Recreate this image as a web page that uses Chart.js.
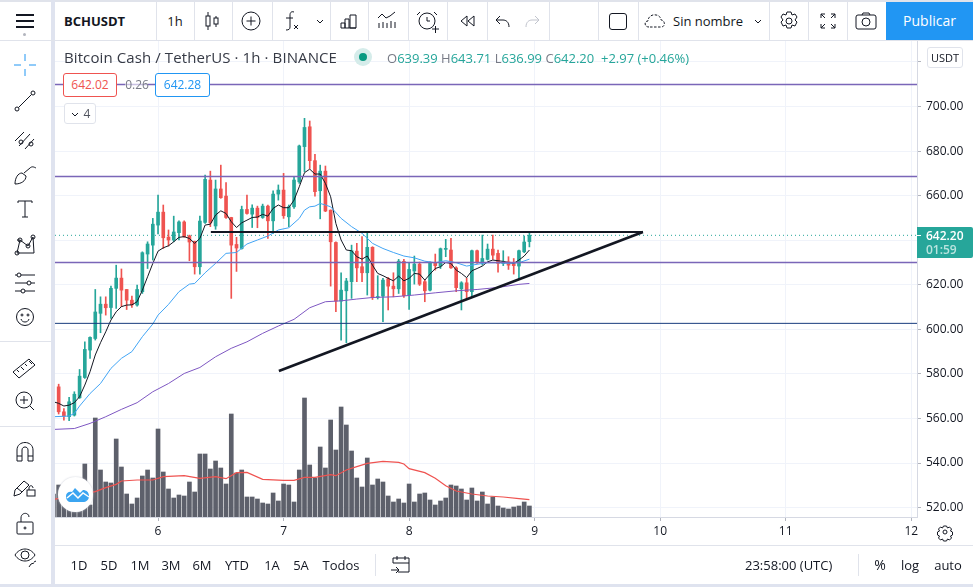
<!DOCTYPE html>
<html>
<head>
<meta charset="utf-8">
<title>BCHUSDT</title>
<script src="https://cdn.jsdelivr.net/npm/chart.js@4/dist/chart.umd.min.js"></script>
<style>
html, body { margin: 0; padding: 0; background: #fff; overflow: hidden; }
body { width: 973px; height: 587px; position: relative; font-family: "Open Sans", "Noto Sans", sans-serif; color: #131722; }
#chart { position: absolute; left: 55px; top: 41px; }
.ui { position: absolute; white-space: nowrap; line-height: 1; }
.box { position: absolute; box-sizing: border-box; }
svg { position: absolute; fill: none; stroke: #131722; stroke-width: 1; }
.up { color: #26a69a; }
.lbl { color: #787b86; }
</style>
</head>
<body>
<canvas id="chart" width="918" height="504"></canvas>
<div id="chrome"></div>
<script>
// hours counted from the start of day 6, one candle per hour
const candleHours = [-19,-18,-17,-16,-15,-14,-13,-12,-11,-10,-9,-8,-7,-6,-5,-4,-3,-2,-1,0,1,2,3,4,5,6,7,8,9,10,11,12,13,14,15,16,17,18,19,20,21,22,23,24,25,26,27,28,29,30,31,32,33,34,35,36,37,38,39,40,41,42,43,44,45,46,47,48,49,50,51,52,53,54,55,56,57,58,59,60,61,62,63,64,65,66,67,68,69,70,71];
const opens = [574.2,563.0,560.8,561.5,569.3,578.4,590.7,595.9,607.2,611.3,609.8,618.4,623.0,617.9,613.1,610.9,616.9,633.8,637.8,646.8,
  652.6,641.4,640.1,643.4,648.2,642.0,639.5,628.1,648.0,667.0,646.4,663.0,659.8,650.2,638.1,636.3,653.8,651.7,654.4,650.2,
  655.3,648.7,660.7,662.5,650.5,655.0,666.2,682.0,690.9,675.7,662.2,671.0,653.5,639.0,612.7,617.3,621.4,635.1,628.1,625.4,
  636.8,614.3,614.9,622.7,619.4,618.2,630.5,615.4,626.2,629.3,621.4,617.6,629.9,628.4,635.9,635.6,627.6,618.2,620.9,616.9,
  635.3,629.9,631.4,636.0,634.1,629.6,630.3,629.6,628.4,634.8,639.39];
const highs = [575.4,564.5,569.5,572.0,582.0,594.4,596.7,617.9,614.6,614.6,619.4,628.8,627.1,617.9,614.9,619.9,634.8,639.3,649.8,660.3,
  655.8,644.6,650.8,648.7,648.7,642.3,639.6,650.8,669.2,671.0,667.0,673.7,665.9,650.3,641.3,655.3,660.3,655.9,655.3,656.2,
  655.8,662.2,664.8,670.0,655.8,668.2,682.7,694.7,693.5,678.5,673.7,673.3,653.6,639.3,625.4,622.9,637.8,638.6,641.6,643.1,
  637.1,624.1,622.9,623.3,625.4,631.4,631.4,629.6,632.9,630.2,622.4,630.3,633.8,636.5,640.4,640.8,628.1,621.4,622.9,635.6,
  635.6,642.3,638.3,642.3,635.6,635.3,632.6,631.8,635.6,641.9,643.71];
const lows = [562.0,559.3,559.0,561.1,569.0,578.0,587.0,595.2,598.5,606.4,604.9,609.4,610.2,608.9,609.8,610.4,616.1,627.3,631.1,642.8,
  636.3,637.4,639.3,640.1,641.3,630.8,624.8,624.8,647.5,646.1,644.9,658.8,649.8,613.9,626.0,636.0,651.7,645.7,645.6,649.8,
  640.8,643.1,658.0,649.8,646.1,654.3,665.5,670.7,672.2,659.8,649.6,652.8,619.4,607.9,595.2,594.0,613.9,621.4,621.4,615.4,
  613.4,613.6,603.4,608.7,614.6,616.1,614.3,608.9,620.3,619.7,612.4,617.2,626.6,627.3,632.6,627.3,616.9,608.7,613.4,614.3,
  629.6,628.8,631.1,631.4,625.7,628.6,626.9,624.8,622.4,634.4,636.99];
const closes = [563.0,561.1,567.5,570.9,579.0,591.0,596.4,607.8,611.3,609.7,618.4,623.0,617.6,613.1,611.0,617.9,634.4,638.3,647.2,652.6,
  641.1,640.1,643.7,648.2,641.6,639.2,628.1,648.6,667.3,647.8,663.0,659.1,650.2,637.8,636.5,653.8,652.0,654.4,650.2,655.3,
  648.7,660.7,662.5,651.0,655.0,667.0,682.3,690.6,675.7,661.8,671.0,653.1,639.3,612.7,617.6,621.7,635.3,627.6,625.4,636.8,
  614.3,614.6,622.1,619.4,618.2,630.6,615.1,626.9,629.3,620.3,617.3,629.9,628.6,636.2,636.2,627.6,618.7,620.9,616.9,635.3,
  629.9,631.8,636.0,633.3,629.6,629.9,628.8,628.6,635.3,639.2,642.20];

// volume, relative units, index 0 is hour -20
const volumeHours = [-20,-19,-18,-17,-16,-15,-14,-13,-12,-11,-10,-9,-8,-7,-6,-5,-4,-3,-2,-1,0,1,2,3,4,5,6,7,8,9,10,11,12,13,14,15,16,17,18,19,20,21,22,23,24,25,26,27,28,29,30,31,32,33,34,35,36,37,38,39,40,41,42,43,44,45,46,47,48,49,50,51,52,53,54,55,56,57,58,59,60,61,62,63,64,65,66,67,68,69,70,71];
const volumes = [69,96,61,36,41,23,159,36,297,141,105,102,234,150,69,39,57,123,141,117,264,135,84,57,66,63,105,75,189,189,144,168,147,99,309,132,141,60,60,54,42,39,72,48,99,96,45,141,357,156,
  117,210,147,291,201,330,276,198,117,90,177,96,114,105,63,45,54,42,99,45,69,72,51,36,48,57,96,93,84,51,87,48,75,39,60,33,27,24,30,33,45,33];
const volumeMaHours = [-20,-12,-10,-8,-7,-4,-1,1,5,8,11,13,15,17,20,24,26,28,30,33,34,36,38,40,43,46,47,48,51,53,55,57,60,63,66,69,71];
const volumeMa = [53,76,88,98,108,111,111,121,124,116,121,115,133,134,113,110,110,119,119,127,124,141,151,161,167,164,159,145,133,116,94,78,69,63,60,55,52];

// moving averages on price
const blackHours = volumeHours;
const blackLine = [567.5,566.8,565.6,566.0,567.1,569.8,575.0,581.0,588.5,594.0,598.9,604.2,607.9,610.2,610.9,611.0,612.4,617.6,623.6,629.6,
  635.1,636.6,637.5,639.3,641.3,641.6,640.8,638.6,640.8,646.8,647.2,651.3,653.2,652.0,648.3,645.7,647.8,649.0,650.2,650.4,
  651.6,650.8,654.3,655.8,654.6,654.6,658.0,664.0,670.3,671.9,669.7,669.7,665.5,659.5,647.5,640.1,635.6,635.3,632.6,631.5,
  632.9,628.8,625.1,624.1,622.9,621.8,623.9,621.8,622.9,625.1,624.8,622.1,624.8,627.3,628.1,630.0,629.6,626.6,625.1,623.2,
  626.3,627.3,628.4,630.3,631.1,630.8,630.5,630.0,629.6,631.1,632.9,635.6];
const blueHours = [-20,-17,-16,-15,-13,-11,-9,-7,-5,-3,-1,0,2,4,6,7,9,11,13,15,17,19,21,23,25,27,28,29,30,31,32,33,35,37,39,41,43,45,47,49,51,53,55,57,59,61,63,65,67,69,71];
const blueLine = [560.8,561.1,562.3,565.6,571.2,575.7,582.5,587.0,590.0,596.7,602.4,606.4,611.2,616.9,620.3,620.6,625.4,629.6,634.1,634.5,638.3,640.1,641.9,644.6,645.6,649.8,653.5,655.0,655.3,656.5,655.8,655.0,649.8,646.1,643.1,638.6,636.3,634.5,632.9,632.1,630.6,629.9,630.8,629.9,628.4,629.2,629.9,629.9,629.6,629.9,631.5];
const purpleHours = [-20,-16,-13,-10,-7,-4,-1,2,5,8,11,14,17,20,23,26,29,32,35,38,41,45,49,53,57,61,65,69,71];
const purpleLine = [555.1,555.5,557.8,560.8,564.1,567.1,572.0,575.7,580.2,582.9,587.7,591.5,594.4,598.2,601.5,604.5,609.7,612.4,612.8,613.6,614.3,614.6,615.4,616.4,617.3,617.9,618.8,620.2,620.6];

// drawn levels and the trend line
const purpleLevels = [709.9, 668.6, 630.0];
const navyLevel = 602.7;
const resistance = { hours: [10.1, 92.7], prices: [643.7, 643.7] };
const trend = { hours: [23.1, 92.7], prices: [581.3, 643.7] };
const lastPrice = 642.20;

const priceTicks = [520,540,560,580,600,620,640,660,680,700,720];
const dayTicks = [0,24,48,72,96,120,144];
const dayLabels = ["6","7","8","9","10","11","12"];

const zip = (xs, ys) => xs.map((x, i) => ({ x, y: ys[i] }));
const UP = "#26a69a", DOWN = "#ef5350";
const candleColors = closes.map((c, i) => c >= opens[i] ? UP : DOWN);
const HMIN = -19.7, HMAX = 145.1;

function lineSet(points, color, width, extra) {
    return Object.assign({
        type: "line", data: points, borderColor: color, borderWidth: width,
        pointRadius: 0, tension: 0, yAxisID: "y", order: 3
    }, extra || {});
}

const datasets = [
    { type: "bar", data: zip(volumeHours, volumes), backgroundColor: "#5d606b", barThickness: 4, grouped: false, yAxisID: "vol", order: 9 },
    lineSet(zip(volumeMaHours, volumeMa), "#ef5350", 1.2, { yAxisID: "vol", order: 8 }),
    { type: "bar", data: candleHours.map((h, i) => ({ x: h, y: [lows[i], highs[i]] })), backgroundColor: candleColors, barThickness: 1, grouped: false, yAxisID: "y", order: 6 },
    { type: "bar", data: candleHours.map((h, i) => ({ x: h, y: [opens[i], closes[i]] })), backgroundColor: candleColors, barThickness: 3, grouped: false, minBarLength: 1, yAxisID: "y", order: 5 },
    lineSet(zip(purpleHours, purpleLine), "#7e57c2", 1),
    lineSet(zip(blueHours, blueLine), "#42a5f5", 1),
    lineSet(zip(blackHours, blackLine), "#131722", 1),
    lineSet([{ x: HMIN, y: lastPrice }, { x: HMAX, y: lastPrice }], UP, 1, { borderDash: [1, 3], order: 7 }),
    lineSet([{ x: HMIN, y: navyLevel }, { x: HMAX, y: navyLevel }], "#163a7d", 1, { order: 2 })
];
purpleLevels.forEach(p => datasets.push(lineSet([{ x: HMIN, y: p }, { x: HMAX, y: p }], "#7a66b8", 1.5, { order: 2 })));
datasets.push(lineSet(zip(resistance.hours, resistance.prices), "#131722", 2, { order: 1 }));
datasets.push(lineSet(zip(trend.hours, trend.prices), "#131722", 2.6, { order: 1 }));

const tickFont = { family: "'Open Sans', sans-serif", size: 12 };

new Chart(document.getElementById("chart").getContext("2d"), {
    data: { datasets },
    options: {
        responsive: false,
        animation: false,
        events: [],
        layout: { padding: 0 },
        plugins: { legend: { display: false }, tooltip: { enabled: false } },
        scales: {
            x: {
                type: "linear", min: HMIN, max: HMAX, offset: false,
                grid: { color: "#f0f3fa", offset: false, tickColor: "#b2b5be", tickLength: 4 },
                border: { color: "#d6d9e3" },
                ticks: { color: "#131722", font: tickFont, padding: 3, maxRotation: 0, autoSkip: false,
                    callback: v => dayLabels[dayTicks.indexOf(v)] },
                afterBuildTicks: s => { s.ticks = dayTicks.map(v => ({ value: v })); },
                afterFit: s => { s.height = 28; s.paddingLeft = 0; s.paddingRight = 0; }
            },
            y: {
                position: "right", min: 515.8, max: 729.4,
                grid: { color: "#f0f3fa", tickColor: "#b2b5be", tickLength: 4 },
                border: { color: "#d6d9e3" },
                ticks: { color: "#131722", font: tickFont, padding: 5,
                    callback: v => v === 720 ? "" : v.toFixed(2) },
                afterBuildTicks: s => { s.ticks = priceTicks.map(v => ({ value: v })); },
                afterFit: s => { s.width = 56; s.paddingTop = 0; s.paddingBottom = 0; }
            },
            vol: { display: false, min: 0, max: 1428 }
        }
    }
});

// ---- toolbars round the chart ----
const chrome = document.getElementById("chrome");
function add(html) { chrome.insertAdjacentHTML("beforeend", html); }
function text(t, x, y, size, opts) {
    opts = opts || {};
    const tx = opts.center ? "translate(-50%,-50%)" : "translateY(-50%)";
    add(`<div class="ui ${opts.cls || ""}" style="left:${x}px;top:${y}px;font-size:${size}px;transform:${tx};${opts.style || ""}">${t}</div>`);
}
function rect(x, y, w, h, style) { add(`<div class="box" style="left:${x}px;top:${y}px;width:${w}px;height:${h}px;${style}"></div>`); }
function icon(x, y, body, color) {
    add(`<svg style="left:${x - 14}px;top:${y - 14}px;${color ? "stroke:" + color : ""}" width="28" height="28" viewBox="-14 -14 28 28">${body}</svg>`);
}

// frame
const FRAME = "#e0e3eb";
rect(0, 0, 973, 2, "background:" + FRAME);
rect(51, 0, 4, 587, "background:#dfe3ef");
rect(0, 40, 973, 1, "background:" + FRAME);
rect(55, 545, 918, 1, "background:" + FRAME);
rect(0, 584, 973, 3, "background:#dfe3ef");
rect(0, 341, 51, 1, "background:" + FRAME);
rect(0, 426, 51, 1, "background:" + FRAME);
[156, 194, 232, 272, 330, 368, 408, 447, 487, 549, 598, 638, 769, 808, 847].forEach(x => rect(x, 2, 1, 38, "background:" + FRAME));
rect(375, 554, 1, 22, "background:" + FRAME);
rect(858, 554, 1, 22, "background:" + FRAME);

// top bar
text("BCHUSDT", 64, 21, 13, { style: "font-weight:700;" });
text("1h", 175, 21, 13, { center: true });
icon(212, 21, '<path d="M-4-9v18M4-5v11"/><rect x="-6" y="-5" width="4" height="10" fill="#fff"/><rect x="2" y="-3" width="4" height="6" fill="#fff"/>');
icon(251, 21, '<circle r="9"/><path d="M-4.5 0h9M0-4.5v9"/>');
icon(291, 21, '<path d="M3-9c-3-1-4 1-4 3v12c0 2-1 3-4 3M-5-3h7M3 4l4 4M7 4l-4 4"/>');
icon(320, 21, '<path d="M-3-1l3 3 3-3"/>');
icon(349, 21, '<path d="M-8 7v-5h4v5M-4 7v-9h4v9M1 7v-13h6v13zM-8 7h15"/>');
icon(387, 21, '<path d="M-9-3l4-4 4 4 4-2 5-4M-8 7v-5M-4 7v-6M0 7v-5M4 7v-7M8 7v-6"/>');
icon(428, 21, '<circle cx="-1" cy="0" r="8"/><path d="M-1-4v4h3M-8-9l-3 3M6-9l3 3M4 8h7M7.500 5v7"/>');
icon(468, 21, '<path d="M-1-5l-6 5 6 5zM6-5l-6 5 6 5z"/>');
icon(503, 21, '<path d="M6 6c0-5-3-7-6-7h-6M-3-5l-4 4 4 4"/>');
icon(532, 21, '<path d="M-6 6c0-5 3-7 6-7h6M3-5l4 4-4 4"/>', "#c1c4cd");
add('<div class="box" style="left:609px;top:13px;width:18px;height:17px;border:1px solid #131722;border-radius:3px"></div>');
icon(657, 21, '<path d="M-8 6c-5 0-5-6-1-6 0-4 4-7 8-6 3 0 5 3 5 5 4 0 5 7 0 7z" stroke-dasharray="2.500 1.500"/>');
text("Sin nombre", 673, 21, 13);
icon(758, 21, '<path d="M-3-1l3 3 3-3"/>');
icon(789, 21, '<circle r="3"/><path d="M-2-9h4l1 3 3-1 2 3-2 3 2 2-2 4-3-1-1 3h-4l-1-3-3 1-2-4 2-2-2-3 2-3 3 1z"/>');
icon(828, 21, '<path d="M-7-3v-4h4M3-7h4v4M7 3v4h-4M-3 7h-4v-4M-7-7l4 4M7-7l-4 4M7 7l-4-4M-7 7l4-4"/>');
icon(866, 21, '<rect x="-10" y="-6" width="20" height="14" rx="2"/><path d="M-4-6l1-2h6l1 2"/><circle cy="1" r="4"/>');
rect(886, 2, 87, 38, "background:#2196f3");
text("Publicar", 929.500, 21, 14, { center: true, style: "color:#fff;" });

// left bar
[0, 6, 12].forEach(d => rect(16, 14 + d, 18, 2, "background:#131722"));
rect(23, 33, 3, 3, "background:#b2b5be;border-radius:2px");
icon(25, 65, '<path d="M0-11v7M0 4v7M-11 0h7M4 0h7"/>', "#2196f3");
icon(25, 101, '<circle cx="-8" cy="8" r="2"/><circle cx="8" cy="-8" r="2"/><path d="M-6.500 6.500l13-13"/>');
icon(25, 138, '<path d="M-10 3l9-9M-6 8l11-12M0 11l9-10"/><circle cx="-4" cy="4" r="2"/><circle cx="6" cy="6" r="2"/>');
icon(25, 175, '<path d="M-10 9c0-6 3-11 7-11l4 3c0 5-5 8-11 8zM-1-2l6-5c2-2 4-1 6 0"/>');
icon(25, 209, '<path d="M-7-6v-2h14v2M0-8v16M-3 8h6"/>');
icon(25, 245, '<path d="M-8 8l3-13 8 6 5-9 1 16zM-5-5l-3 0"/><circle cx="-8" cy="8" r="2"/><circle cx="-5" cy="-5" r="2"/><circle cx="3" cy="1" r="2"/><circle cx="8" cy="-8" r="2"/>');
icon(25, 283, '<path d="M-10-8h20M-10 0h20M-10 8h20"/><circle cx="-6" cy="-8" r="2" fill="#fff"/><circle cx="4" cy="0" r="2" fill="#fff"/><circle cx="-2" cy="8" r="2" fill="#fff"/>');
icon(25, 317, '<circle r="8.500"/><circle cx="-3" cy="-2" r="1"/><circle cx="3" cy="-2" r="1"/><path d="M-4 2c1 4 7 4 8 0"/>');
icon(25, 366, '<path d="M-12 6l16-13 6 6-16 13zM-8 4l2 2M-4 1l3 3M0-2l2 2M4-5l3 3"/>');
icon(25, 401, '<circle cx="-1" cy="-1" r="8"/><path d="M-5-1h8M-1-5v8M5 5l4 4"/>');
icon(25, 451, '<path d="M-8 10v-11c0-10 16-10 16 0v11h-5v-11c0-4-6-4-6 0v11zM-8 5h5M3 5h5"/>');
icon(25, 486, '<path d="M-11 10l1-6 9-9 5 4-9 9zM-8 2l5 4"/><rect x="2" y="4" width="8" height="6"/><path d="M4 4v-2c0-3 4-3 4 0"/>');
icon(25, 524, '<rect x="-8" y="-2" width="16" height="12" rx="1"/><path d="M-4-2v-4c0-6 8-6 8-1"/><circle cy="4" r="1"/>');
icon(25, 557, '<path d="M-10-2c5-8 15-8 20 0-5 8-15 8-20 0z"/><circle cy="-2" r="4"/><path d="M4 10l2-3 3-1M9 5l2-1"/>');

// legend over the chart
text("Bitcoin Cash / TetherUS · 1h · BINANCE", 64, 57, 15, { style: "color:#363a45;letter-spacing:.1px;" });
add('<div class="box" style="left:354px;top:48px;width:18px;height:18px;border-radius:9px;background:#d5ecea"></div>');
add('<div class="box" style="left:359px;top:53px;width:8px;height:8px;border-radius:4px;background:#089981"></div>');
text('<span class="lbl">O</span>639.39 <span class="lbl">H</span>643.71 <span class="lbl">L</span>636.99 <span class="lbl">C</span>642.20 &nbsp;+2.97 (+0.46%)', 387, 58, 13, { cls: "up" });
add('<div class="box" style="left:63px;top:73px;width:54px;height:24px;background:#fff;border:1px solid #ef5350;border-radius:3px"></div>');
text("642.02", 90, 85, 12, { center: true, style: "color:#ef5350;" });
add('<div class="box" style="left:125px;top:78px;width:23px;height:14px;background:rgba(255,255,255,.6)"></div>');
text("0.26", 137, 85, 12, { center: true, style: "color:#787b86;" });
add('<div class="box" style="left:155px;top:73px;width:55px;height:24px;background:#fff;border:1px solid #2196f3;border-radius:3px"></div>');
text("642.28", 182.500, 85, 12, { center: true, style: "color:#2196f3;" });
add('<div class="box" style="left:64px;top:103px;width:32px;height:21px;background:#fff;border:1px solid #e0e3eb;border-radius:3px"></div>');
icon(75, 113.500, '<path d="M-3-1l3 3 3-3"/>');
text("4", 87, 114, 12, { center: true, style: "color:#50535e;" });
add('<div class="box" style="left:927px;top:47px;width:36px;height:21px;background:#fff;border:1px solid #e0e3eb;border-radius:3px"></div>');
text("USDT", 945, 57, 11, { center: true });

// last price tag
add('<div class="box" style="left:917px;top:227px;width:56px;height:31px;background:#26a69a;border-radius:0 2px 2px 0"></div>');
text("642.20", 926, 236, 12, { style: "color:#fff;font-weight:600;" });
text("01:59", 926, 250, 12, { style: "color:#b9e4df;font-weight:600;" });
rect(917, 235, 4, 1, "background:#fff");

// watermark logo
add('<div class="box" style="left:58px;top:477px;width:35px;height:35px;border-radius:18px;background:#fff;box-shadow:0 0 2px #c8ccd6"></div>');
add('<svg style="left:66px;top:487px;stroke:none" width="24" height="16" viewBox="0 0 24 16"><path fill="#3ba5f1" d="M0 9c0-3 3-5 6-4l3-4 5 5 3-3c3 0 6 2 6 6 0 4-3 6-6 6H5C2 15 0 13 0 9z"/><path d="M1 11l6-5 5 5 5-5 6 4" stroke="#fff" stroke-width="1.500" fill="none"/></svg>');

// gear in the corner of the axes
icon(945, 532, '<circle r="2"/><path d="M-1.500-6h3l1 2 2-1 2 2-1 2 2 1v3l-2 1 1 2-2 2-2-1-1 2h-3l-1-2-2 1-2-2 1-2-2-1v-3l2-1-1-2 2-2 2 1z"/>');

// bottom bar
[["1D", 79], ["5D", 109], ["1M", 140], ["3M", 171], ["6M", 202], ["YTD", 237], ["1A", 272], ["5A", 301], ["Todos", 341]]
    .forEach(r => text(r[0], r[1], 565, 13, { center: true }));
icon(401, 565, '<path d="M-8-2v-5h16v14h-11M-8-2h16M-4-9v4M4-9v4M-10 5h8M-5 2l3 3-3 3"/>');
text("23:58:00 (UTC)", 745, 565, 13);
text("%", 880, 565, 14, { center: true });
text("log", 910, 565, 13, { center: true });
text("auto", 948, 565, 13, { center: true });
</script>
</body>
</html>
